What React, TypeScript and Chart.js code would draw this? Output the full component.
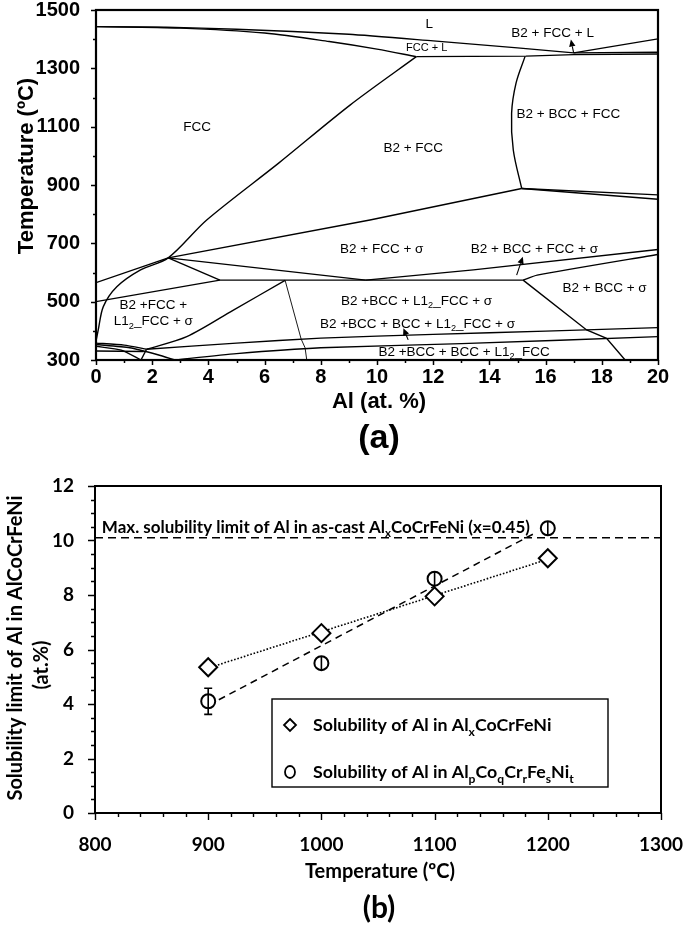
import React, { useEffect, useRef } from "react";
import { Chart, registerables } from "chart.js";
Chart.register(...registerables);

type Pt = [number, number];

// ================= (a) phase diagram: Al (at.%) vs Temperature (°C) =================
const phaseXTickLabels = [0, 2, 4, 6, 8, 10, 12, 14, 16, 18, 20];
const phaseYTickLabels = [300, 500, 700, 900, 1100, 1300, 1500];

const liquidusUpper: Pt[] = [[0, 1443], [2.5, 1441], [5, 1434], [9, 1417], [12, 1394], [15, 1370], [17, 1353]];
const liquidusRight: Pt[] = [[17, 1353], [20, 1401]];
const fccLiquidus: Pt[] = [[0, 1443], [3, 1438], [6, 1421], [8.3, 1392], [10, 1366], [11.4, 1340]];
const b2Solvus: Pt[] = [[11.4, 1340], [15.3, 1342], [17, 1347], [20, 1349]];
const b2FccLRight: Pt[] = [[17, 1353], [20, 1355]];
const fccB2Boundary: Pt[] = [[0, 365], [0.08, 403], [0.26, 483], [0.74, 551], [1.57, 608], [2.57, 650], [3.94, 780], [6.5, 975], [9.04, 1174], [11.4, 1340]];
const sigmaLeftUpper: Pt[] = [[0, 565], [2.57, 650]];
const b2FccSigmaUpper: Pt[] = [[2.57, 650], [9.75, 780], [15.15, 888]];
const bccFccRightUpper: Pt[] = [[15.15, 888], [20, 866]];
const bccFccRightLower: Pt[] = [[15.15, 888], [20, 851]];
const bccFccLeft: Pt[] = [[15.27, 1341], [14.95, 1250], [14.79, 1146], [14.85, 1020], [15.15, 888]];
const sigmaDipLeft: Pt[] = [[2.57, 650], [9.6, 574]];
const sigmaDipRight: Pt[] = [[9.6, 574], [13.43, 609], [20, 679]];
const bccSigmaUpper: Pt[] = [[15.2, 574], [15.7, 591], [20, 662]];
const quadToPlateau: Pt[] = [[2.57, 650], [4.41, 574]];
const plateau574: Pt[] = [[4.41, 574], [15.2, 574]];
const leftLower500: Pt[] = [[0, 500], [4.41, 574]];
const l12Dome: Pt[] = [[1.8, 337], [3.23, 380], [4.89, 471], [6.73, 573]];
const l12Thin: Pt[] = [[6.73, 573], [7.3, 372], [7.44, 342], [7.5, 300]];
const bccDiagonal: Pt[] = [[15.2, 574], [17.46, 403], [18.17, 374], [18.83, 300]];
const lowLineUpper: Pt[] = [[1.8, 337], [5, 358], [8, 375], [12, 388], [16, 399], [20, 411]];
const lowLineLower: Pt[] = [[2.8, 300], [5, 322], [8, 342], [13, 356], [20, 380]];
const cornerA: Pt[] = [[0, 358], [1.0, 351], [1.8, 337]];
const cornerB: Pt[] = [[0, 353], [1.2, 342], [2.2, 318], [2.8, 300]];
const cornerC: Pt[] = [[0, 347], [0.9, 334], [1.6, 300]];
const cornerD: Pt[] = [[0, 331], [1.7, 329]];
const cornerStem: Pt[] = [[1.6, 300], [1.8, 337]];

const phaseArrows: [Pt, Pt][] = [
  [[17.0, 1352], [16.9, 1399]],
  [[14.97, 591], [15.19, 654]],
  [[11.11, 369], [10.94, 409]],
];

// [text, Al at.%, T °C, font size]   ({..} = subscript)
const phaseLabels: [string, number, number, number][] = [
  ["L", 11.86, 1456, 13.5],
  ["FCC + L", 11.77, 1372, 11],
  ["B2 + FCC + L", 16.25, 1423, 13.5],
  ["FCC", 3.6, 1102, 13.5],
  ["B2 + BCC + FCC", 16.81, 1146, 13.5],
  ["B2 + FCC", 11.29, 1031, 13.5],
  ["B2 + FCC + σ", 10.17, 683, 13.5],
  ["B2 + BCC + FCC + σ", 15.6, 683, 13.5],
  ["B2 + BCC + σ", 18.1, 549, 13.5],
  ["B2 +BCC + L1{2}_FCC + σ", 11.41, 506, 13.5],
  ["B2 +BCC + BCC + L1{2}_FCC + σ", 11.44, 428, 13.5],
  ["B2 +BCC + BCC + L1{2}_FCC", 13.1, 331, 13.5],
  ["B2 +FCC +", 2.04, 491, 13.5],
  ["L1{2}_FCC + σ", 2.04, 435, 13.5],
];

const phaseBoundaries: { pts: Pt[]; w?: number; t?: number }[] = [
  { pts: liquidusUpper, t: 0.2 },
  { pts: liquidusRight },
  { pts: fccLiquidus, t: 0.3 },
  { pts: b2Solvus },
  { pts: b2FccLRight },
  { pts: fccB2Boundary, t: 0.3 },
  { pts: sigmaLeftUpper },
  { pts: b2FccSigmaUpper },
  { pts: bccFccRightUpper },
  { pts: bccFccRightLower },
  { pts: bccFccLeft, t: 0.35 },
  { pts: sigmaDipLeft },
  { pts: sigmaDipRight },
  { pts: bccSigmaUpper, t: 0.2 },
  { pts: quadToPlateau },
  { pts: plateau574 },
  { pts: leftLower500 },
  { pts: l12Dome, t: 0.3 },
  { pts: l12Thin, w: 0.9 },
  { pts: bccDiagonal },
  { pts: lowLineUpper, t: 0.2 },
  { pts: lowLineLower, t: 0.2 },
  { pts: cornerA, t: 0.2 },
  { pts: cornerB, t: 0.2 },
  { pts: cornerC, t: 0.2 },
  { pts: cornerD },
  { pts: cornerStem },
];

// ================= (b) solubility of Al =================
const solTemps = [900, 1000, 1100, 1200];
const solAlx = [5.35, 6.6, 7.95, 9.35];
const solAlpqrst = [4.1, 5.5, 8.6, 10.45];
const solAlpqrstErr = [0.48, 0.25, 0.25, 0.25];
const fitAlxT = [900, 1200];
const fitAlxV = [5.32, 9.31];
const fitAlpqrstT = [900, 1190];
const fitAlpqrstV = [3.95, 10.3];
const castLimit = 10.1;
const castLimitT = [800, 1300];
const solXTickLabels = [800, 900, 1000, 1100, 1200, 1300];
const solYTickLabels = [0, 2, 4, 6, 8, 10, 12];

// ================= helpers =================
const ARIAL = '"Liberation Sans", Arial, sans-serif';
const CALIBRI = 'Lato, "Open Sans", sans-serif';

function drawRich(ctx: CanvasRenderingContext2D, text: string, x: number, y: number, size: number, family: string, weight: string, align: "left" | "center" | "right") {
  const parts = text.split(/(\{[^}]*\})/).filter((s) => s.length);
  const segs = parts.map((p) => (p.startsWith("{") ? { t: p.slice(1, -1), sub: true, w: 0 } : { t: p, sub: false, w: 0 }));
  const subSize = size * 0.68;
  let w = 0;
  for (const s of segs) {
    ctx.font = `${weight} ${s.sub ? subSize : size}px ${family}`;
    s.w = ctx.measureText(s.t).width;
    w += s.w;
  }
  let cx = align === "center" ? x - w / 2 : align === "right" ? x - w : x;
  ctx.textAlign = "left";
  ctx.textBaseline = "alphabetic";
  for (const s of segs) {
    ctx.font = `${weight} ${s.sub ? subSize : size}px ${family}`;
    ctx.fillText(s.t, cx, s.sub ? y + size * 0.24 : y);
    cx += s.w;
  }
}

function drawRotated(ctx: CanvasRenderingContext2D, text: string, cx: number, cy: number, size: number, family: string) {
  ctx.save();
  ctx.translate(cx, cy);
  ctx.rotate(-Math.PI / 2);
  drawRich(ctx, text, 0, size * 0.36, size, family, "bold", "center");
  ctx.restore();
}

function ticksAndFrame(opts: { xMajor: (v: number) => boolean; yMajor: (v: number) => boolean; major: number; minor: number; tickW: number; frameW: number }) {
  return {
    id: "ticksAndFrame",
    afterDraw(chart: any) {
      const { ctx, chartArea: ca } = chart;
      const x = chart.scales.x;
      const y = chart.scales.y;
      ctx.save();
      ctx.strokeStyle = "#000";
      ctx.lineWidth = opts.tickW;
      ctx.beginPath();
      for (const t of x.ticks) {
        const p = Math.round(x.getPixelForValue(t.value)) + 0.5;
        const len = opts.xMajor(t.value) ? opts.major : opts.minor;
        ctx.moveTo(p, ca.bottom);
        ctx.lineTo(p, ca.bottom + len);
      }
      for (const t of y.ticks) {
        const p = Math.round(y.getPixelForValue(t.value)) + 0.5;
        const len = opts.yMajor(t.value) ? opts.major : opts.minor;
        ctx.moveTo(ca.left, p);
        ctx.lineTo(ca.left - len, p);
      }
      ctx.stroke();
      ctx.lineWidth = opts.frameW;
      ctx.strokeRect(ca.left, ca.top, ca.right - ca.left, ca.bottom - ca.top);
      ctx.restore();
    },
  };
}

const isInt = (v: number, list: number[]) => list.some((l) => Math.abs(l - v) < 1e-6);

// ================= chart (a) config =================
function configA(): any {
  const tickFont = { family: ARIAL, weight: "bold" as const, size: 20 };
  return {
    type: "scatter",
    data: {
      datasets: phaseBoundaries.map((b) => ({
        data: b.pts.map(([x, y]) => ({ x, y })),
        showLine: true,
        borderColor: "#000",
        borderWidth: b.w ?? 1.4,
        pointRadius: 0,
        tension: b.t ?? 0,
      })),
    },
    options: {
      responsive: false,
      animation: false,
      events: [],
      layout: { padding: { left: 0, top: 10, right: 27, bottom: 0 } },
      plugins: { legend: { display: false }, tooltip: { enabled: false } },
      scales: {
        x: {
          type: "linear",
          min: 0,
          max: 20,
          border: { display: false },
          grid: { display: false },
          ticks: {
            stepSize: 1,
            autoSkip: false,
            maxRotation: 0,
            minRotation: 0,
            padding: -3,
            color: "#000",
            font: tickFont,
            callback: (v: number) => (isInt(v, phaseXTickLabels) ? String(v) : ""),
          },
          afterFit: (s: any) => {
            s.height = 100;
            s.paddingLeft = 0;
            s.paddingRight = 0;
          },
        },
        y: {
          type: "linear",
          min: 300,
          max: 1500,
          border: { display: false },
          grid: { display: false },
          ticks: {
            stepSize: 100,
            autoSkip: false,
            padding: 8,
            color: "#000",
            font: tickFont,
            callback: (v: number) => (isInt(v, phaseYTickLabels) ? String(v) : ""),
          },
          afterFit: (s: any) => {
            s.width = 96;
            s.paddingTop = 0;
            s.paddingBottom = 0;
          },
        },
      },
    },
    plugins: [
      {
        id: "phaseText",
        afterDatasetsDraw(chart: any) {
          const { ctx } = chart;
          const x = chart.scales.x;
          const y = chart.scales.y;
          ctx.save();
          ctx.fillStyle = "#000";
          for (const [t, ax, ty, size] of phaseLabels) {
            drawRich(ctx, t, x.getPixelForValue(ax), y.getPixelForValue(ty) + size * 0.36, size, ARIAL, "normal", "center");
          }
          ctx.strokeStyle = "#000";
          ctx.lineWidth = 1.1;
          for (const [from, to] of phaseArrows) {
            const x0 = x.getPixelForValue(from[0]);
            const y0 = y.getPixelForValue(from[1]);
            const x1 = x.getPixelForValue(to[0]);
            const y1 = y.getPixelForValue(to[1]);
            const ang = Math.atan2(y1 - y0, x1 - x0);
            const hl = 7;
            const hw = 3.2;
            const bx = x1 - hl * Math.cos(ang);
            const by = y1 - hl * Math.sin(ang);
            ctx.beginPath();
            ctx.moveTo(x0, y0);
            ctx.lineTo(bx, by);
            ctx.stroke();
            ctx.beginPath();
            ctx.moveTo(x1, y1);
            ctx.lineTo(bx + hw * Math.sin(ang), by - hw * Math.cos(ang));
            ctx.lineTo(bx - hw * Math.sin(ang), by + hw * Math.cos(ang));
            ctx.closePath();
            ctx.fill();
          }
          ctx.restore();
        },
      },
      ticksAndFrame({
        xMajor: (v) => isInt(v, phaseXTickLabels),
        yMajor: (v) => isInt(v, phaseYTickLabels),
        major: 5,
        minor: 3,
        tickW: 1.5,
        frameW: 2.2,
      }),
      {
        id: "titlesA",
        afterDraw(chart: any) {
          const { ctx } = chart;
          ctx.save();
          ctx.fillStyle = "#000";
          drawRotated(ctx, "Temperature (ºC)", 25.5, 166, 22, ARIAL);
          drawRich(ctx, "Al (at. %)", 379, 400 + 22 * 0.36, 22, ARIAL, "bold", "center");
          drawRich(ctx, "(a)", 379, 436 + 34 * 0.36, 34, ARIAL, "bold", "center");
          ctx.restore();
        },
      },
    ],
  };
}

// ================= chart (b) config =================
function configB(): any {
  const tickFont = { family: CALIBRI, weight: "bold" as const, size: 19 };
  return {
    type: "scatter",
    data: {
      datasets: [
        {
          data: castLimitT.map((t) => ({ x: t, y: castLimit })),
          showLine: true,
          borderColor: "#000",
          borderWidth: 1.6,
          borderDash: [8, 5],
          pointRadius: 0,
          order: 3,
        },
        {
          data: fitAlxT.map((t, i) => ({ x: t, y: fitAlxV[i] })),
          showLine: true,
          borderColor: "#000",
          borderWidth: 1.6,
          borderDash: [1.6, 1.8],
          pointRadius: 0,
          order: 2,
        },
        {
          data: fitAlpqrstT.map((t, i) => ({ x: t, y: fitAlpqrstV[i] })),
          showLine: true,
          borderColor: "#000",
          borderWidth: 1.5,
          borderDash: [7, 5],
          pointRadius: 0,
          order: 2,
        },
        {
          data: solTemps.map((t, i) => ({ x: t, y: solAlx[i] })),
          showLine: false,
          pointStyle: "rectRot",
          pointRadius: 9,
          pointBorderWidth: 2,
          pointBorderColor: "#000",
          pointBackgroundColor: "#fff",
          order: 0,
        },
        {
          data: solTemps.map((t, i) => ({ x: t, y: solAlpqrst[i] })),
          showLine: false,
          pointStyle: "circle",
          pointRadius: 7,
          pointBorderWidth: 2,
          pointBorderColor: "#000",
          pointBackgroundColor: "#fff",
          order: 0,
        },
      ],
    },
    options: {
      responsive: false,
      animation: false,
      events: [],
      layout: { padding: { left: 0, top: 26, right: 24, bottom: 0 } },
      plugins: { legend: { display: false }, tooltip: { enabled: false } },
      scales: {
        x: {
          type: "linear",
          min: 800,
          max: 1300,
          border: { display: false },
          grid: { display: false },
          ticks: {
            stepSize: 20,
            autoSkip: false,
            maxRotation: 0,
            minRotation: 0,
            padding: 12,
            color: "#000",
            font: tickFont,
            callback: (v: number) => (isInt(v, solXTickLabels) ? String(v) : ""),
          },
          afterFit: (s: any) => {
            s.height = 114;
            s.paddingLeft = 0;
            s.paddingRight = 0;
          },
        },
        y: {
          type: "linear",
          min: 0,
          max: 12,
          border: { display: false },
          grid: { display: false },
          ticks: {
            stepSize: 0.5,
            autoSkip: false,
            padding: 13,
            color: "#000",
            font: tickFont,
            callback: (v: number) => (isInt(v, solYTickLabels) ? String(v) : ""),
          },
          afterFit: (s: any) => {
            s.width = 95;
            s.paddingTop = 0;
            s.paddingBottom = 0;
          },
        },
      },
    },
    plugins: [
      {
        id: "errorBars",
        afterDatasetsDraw(chart: any) {
          const { ctx } = chart;
          const x = chart.scales.x;
          const y = chart.scales.y;
          ctx.save();
          ctx.strokeStyle = "#000";
          ctx.lineWidth = 1.6;
          solTemps.forEach((t, i) => {
            const px = x.getPixelForValue(t);
            const top = y.getPixelForValue(solAlpqrst[i] + solAlpqrstErr[i]);
            const bot = y.getPixelForValue(solAlpqrst[i] - solAlpqrstErr[i]);
            ctx.beginPath();
            ctx.moveTo(px, top);
            ctx.lineTo(px, bot);
            if ((bot - top) / 2 > 9) {
              ctx.moveTo(px - 4, top);
              ctx.lineTo(px + 4, top);
              ctx.moveTo(px - 4, bot);
              ctx.lineTo(px + 4, bot);
            }
            ctx.stroke();
          });
          // annotation above the as-cast limit
          ctx.fillStyle = "#000";
          drawRich(ctx, "Max. solubility limit of Al in as-cast Al{x}CoCrFeNi (x=0.45)", x.getPixelForValue(806), y.getPixelForValue(castLimit) - 5, 17, CALIBRI, "bold", "left");
          // legend box
          const L = 272, R = 608, T = 239, B = 327;
          ctx.fillStyle = "#fff";
          ctx.fillRect(L, T, R - L, B - T);
          ctx.lineWidth = 1.4;
          ctx.strokeRect(L, T, R - L, B - T);
          ctx.fillStyle = "#000";
          ctx.lineWidth = 1.8;
          const dy1 = 265, dy2 = 312, mx = 290;
          ctx.beginPath();
          ctx.moveTo(mx, dy1 - 6);
          ctx.lineTo(mx + 6, dy1);
          ctx.lineTo(mx, dy1 + 6);
          ctx.lineTo(mx - 6, dy1);
          ctx.closePath();
          ctx.stroke();
          ctx.beginPath();
          ctx.ellipse(mx, dy2, 5, 6, 0, 0, Math.PI * 2);
          ctx.stroke();
          drawRich(ctx, "Solubility of Al in Al{x}CoCrFeNi", 313, dy1 + 17.8 * 0.36, 17.8, CALIBRI, "bold", "left");
          drawRich(ctx, "Solubility of Al in Al{p}Co{q}Cr{r}Fe{s}Ni{t}", 313, dy2 + 17.8 * 0.36, 17.8, CALIBRI, "bold", "left");
          ctx.restore();
        },
      },
      ticksAndFrame({
        xMajor: (v) => isInt(v, solXTickLabels),
        yMajor: (v) => isInt(v, solYTickLabels),
        major: 7,
        minor: 4,
        tickW: 1.4,
        frameW: 2,
      }),
      {
        id: "titlesB",
        afterDraw(chart: any) {
          const { ctx } = chart;
          ctx.save();
          ctx.fillStyle = "#000";
          drawRotated(ctx, "Solubility limit of Al in AlCoCrFeNi", 15, 188, 20, CALIBRI);
          drawRotated(ctx, "(at.%)", 41, 205, 20, CALIBRI);
          drawRich(ctx, "Temperature (ºC)", 380, 411 + 20 * 0.36, 20, CALIBRI, "bold", "center");
          drawRich(ctx, "(b)", 379, 447 + 30 * 0.36, 30, CALIBRI, "bold", "center");
          ctx.restore();
        },
      },
    ],
  };
}

export default function App() {
  const refA = useRef<HTMLCanvasElement>(null);
  const refB = useRef<HTMLCanvasElement>(null);
  useEffect(() => {
    const a = new Chart(refA.current as HTMLCanvasElement, configA());
    const b = new Chart(refB.current as HTMLCanvasElement, configB());
    return () => {
      a.destroy();
      b.destroy();
    };
  }, []);
  return (
    <div style={{ position: "absolute", left: 0, top: 0, width: 685, height: 927, background: "#fff" }}>
      <canvas ref={refA} width={685} height={460} style={{ position: "absolute", left: 0, top: 0, width: 685, height: 460 }} />
      <canvas ref={refB} width={685} height={467} style={{ position: "absolute", left: 0, top: 460, width: 685, height: 467 }} />
    </div>
  );
}
